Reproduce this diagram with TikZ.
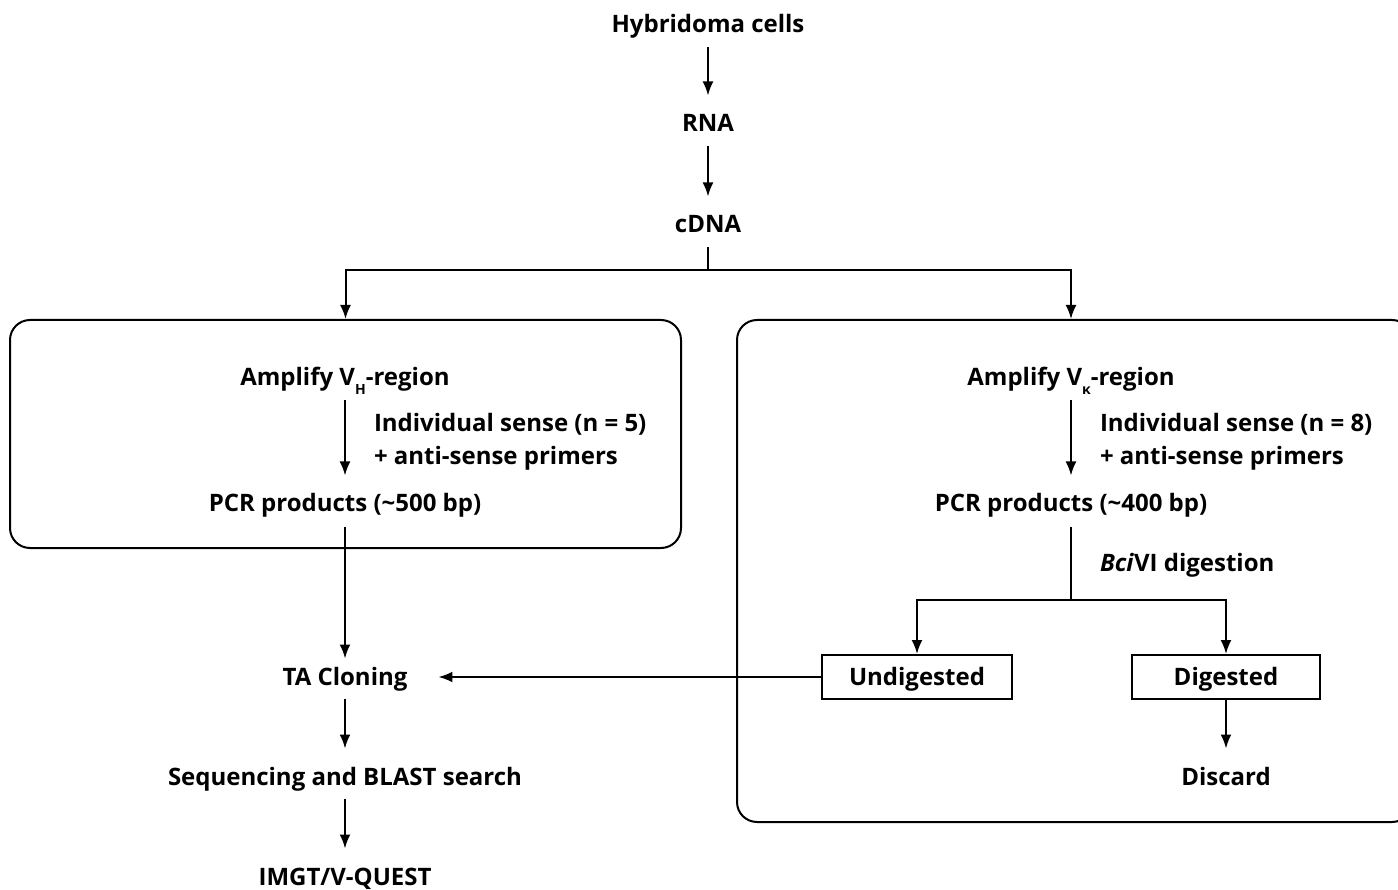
\documentclass[tikz,border=0pt]{standalone}
\usepackage{fontspec}
\setmainfont{Open Sans}
\newfontfamily\greekfont{Open Sans}
\usetikzlibrary{arrows.meta}

\newcommand{\lowsub}[1]{\raisebox{-9pt}{\fontsize{14}{14}\selectfont #1}}

\tikzset{
    lbl/.style={inner sep=0pt,text height=17pt,text depth=0pt},
    panel/.style={draw,-,rounded corners=20pt,inner sep=0pt},
    tagbox/.style={draw,inner sep=0pt,text height=17pt,text depth=0pt,minimum height=44pt},
    flow/.style={->,shorten <=14pt,shorten >=18pt}
}

\begin{document}
\begin{tikzpicture}[x=1pt,y=-1pt,->,>={Latex[length=14pt,width=11pt]},line width=2pt,
    font=\fontsize{24}{28}\selectfont\bfseries]

\useasboundingbox (0,0) rectangle (1398,890);

% panels
\node[panel,minimum width=671pt,minimum height=228pt] (lpanel) at (345.5,434) {};
\node[panel,minimum width=675pt,minimum height=502pt] (rpanel) at (1074.5,571) {};

% top
\node[lbl] (hyb) at (708,24) {Hybridoma cells};
\node[lbl] (rna) at (708,123) {RNA};
\node[lbl] (cdna) at (708,224) {cDNA};
\coordinate (split) at (708,270);

% heavy chain
\node[lbl] (amph) at (345,377) {Amplify V\lowsub{H}-region};
\node[lbl,anchor=west] (senseh) at (373,423) {Individual sense (n = 5)};
\node[lbl,anchor=west] (primh) at (373,456) {+ anti-sense primers};
\node[lbl] (pcrh) at (345,503) {PCR products (\textasciitilde500 bp)};
\node[lbl] (tac) at (345,677) {TA Cloning};
\node[lbl] (seq) at (345,777) {Sequencing and BLAST search};
\node[lbl] (imgt) at (345,877) {IMGT/V-QUEST};

% kappa chain
\node[lbl] (ampk) at (1071,377) {Amplify V\lowsub{\greekfont κ}-region};
\node[lbl,anchor=west] (sensek) at (1099,423) {Individual sense (n = 8)};
\node[lbl,anchor=west] (primk) at (1099,456) {+ anti-sense primers};
\node[lbl] (pcrk) at (1071,503) {PCR products (\textasciitilde400 bp)};
\node[lbl,anchor=west] (bci) at (1099,563) {\textit{Bci}VI digestion};
\coordinate (split2) at (1071,600);
\node[tagbox,minimum width=190pt] (undig) at (917,677) {Undigested};
\node[tagbox,minimum width=188pt] (dig) at (1226,677) {Digested};
\node[lbl] (discard) at (1226,777) {Discard};

\draw[flow] (hyb) -- (rna);
\draw[flow] (rna) -- (cdna);

\path [draw,-,shorten <=14pt] (cdna) -- (split);
\draw (split) -| (lpanel.north);
\draw (split) -| (ampk |- rpanel.north);

\draw[flow] (amph) -- (pcrh);
\draw[shorten <=14pt,shorten >=9pt] (pcrh) -- (tac);
\draw[flow,shorten <=12pt,shorten >=19pt] (tac) -- (seq);
\draw[flow,shorten <=12pt,shorten >=19pt] (seq) -- (imgt);

\draw[flow] (ampk) -- (pcrk);
\path [draw,-,shorten <=14pt] (pcrk) -- (split2);
\draw (split2) -| (undig.north);
\draw (split2) -| (dig.north);
\draw[shorten >=19pt] (dig) -- (discard);
\draw[shorten >=30pt] (undig) -- (tac);

\end{tikzpicture}
\end{document}
